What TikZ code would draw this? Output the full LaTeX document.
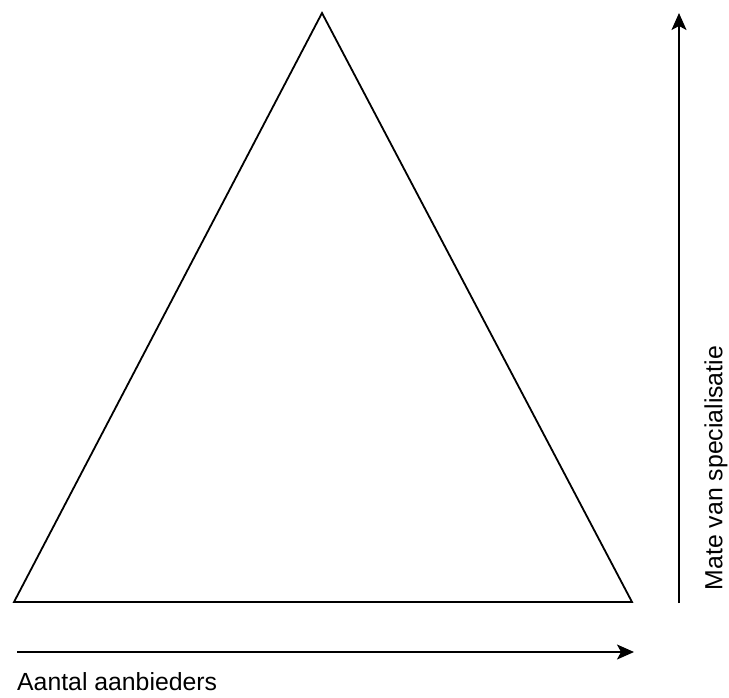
\documentclass[tikz,border=0pt]{standalone}
\usepackage{fontspec}
\setmainfont{Liberation Sans}
\usetikzlibrary{arrows.meta, positioning}
\tikzset{
  edge/.style={draw=black, line width=1.8pt, line join=miter},
  axis/.style={-{Stealth[length=17pt, width=15pt, inset=4pt]}, line width=1.8pt, draw=black},
  axislabel/.style={font=\fontsize{24.8}{29}\selectfont, inner sep=0pt},
}
\begin{document}
\begin{tikzpicture}[x=1pt, y=-1pt]
    \useasboundingbox (0,0) rectangle (729,697);
    % piramide
    \coordinate (top) at (322,13);
    \coordinate (bl) at (14,602);
    \coordinate (br) at (632,602);
    \draw[edge] (bl) -- (top) -- (br) -- cycle;
    % assen
    \coordinate (hstart) at (17,652);
    \coordinate (hend) at (634,652);
    \coordinate (vstart) at (679,603);
    \coordinate (vend) at (679,13);
    \draw[axis] (hstart) -- (hend);
    \draw[axis] (vstart) -- (vend);
    \node[axislabel, anchor=west] (aantal) at (17,682) {Aantal aanbieders};
    \node[axislabel, rotate=90] (mate) at (716,468) {Mate van specialisatie};
  \end{tikzpicture}
\end{document}
